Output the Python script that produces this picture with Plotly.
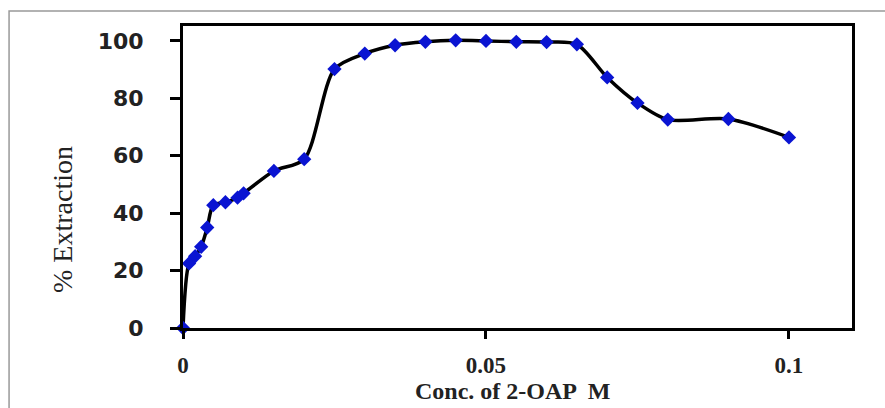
import plotly.graph_objects as go

conc = [0, 0.001, 0.002, 0.003, 0.004, 0.005, 0.007, 0.009, 0.010, 0.015, 0.020,
        0.025, 0.030, 0.035, 0.040, 0.045, 0.050, 0.055, 0.060, 0.065,
        0.070, 0.075, 0.080, 0.090, 0.100]
extraction = [0, 22.5, 25.0, 28.3, 35.0, 42.8, 43.8, 45.4, 46.9, 54.7, 58.8,
              90.2, 95.6, 98.5, 99.7, 100.2, 100.0, 99.7, 99.6, 98.8,
              87.3, 78.4, 72.6, 72.8, 66.4]

x_ticks = [0, 0.05, 0.1]
x_tick_text = ["0", "0.05", "0.1"]
y_ticks = [0, 20, 40, 60, 80, 100]

x_title = "Conc. of 2-OAP \u00a0M"
y_title = "% Extraction"

fig = go.Figure()
fig.add_trace(go.Scatter(
    x=conc, y=extraction, mode="lines+markers",
    line=dict(color="black", width=3.5, shape="spline", smoothing=0.8),
    marker=dict(symbol="diamond", size=11, color="#0a14d2",
                line=dict(width=0)),
    cliponaxis=False, showlegend=False,
))

fig.update_layout(
    width=885, height=408,
    margin=dict(l=183, r=33, t=26, b=80, pad=0),
    paper_bgcolor="white", plot_bgcolor="white",
    xaxis=dict(
        range=[0, 0.1104], tickvals=x_ticks, ticktext=x_tick_text,
        showgrid=False, zeroline=False, automargin=False,
        showline=True, linecolor="black", linewidth=3, mirror=True,
        ticks="outside", ticklen=8, tickwidth=3, tickcolor="black",
        tickfont=dict(family="Liberation Serif", size=23, color="#222", weight="bold"),
        ticklabelstandoff=6,
    ),
    yaxis=dict(
        range=[0, 105.2], tickvals=y_ticks,
        showgrid=False, zeroline=False, automargin=False,
        showline=True, linecolor="black", linewidth=3, mirror=True,
        ticks="outside", ticklen=10, tickwidth=3, tickcolor="black",
        tickfont=dict(family="DejaVu Sans", size=22, color="#222", weight="bold"),
        ticklabelstandoff=22,
    ),
    annotations=[
        dict(text=x_title, xref="paper", yref="paper",
             x=(512 - 183) / 669, y=(328 - 391) / 302,
             xanchor="center", yanchor="middle", showarrow=False,
             font=dict(family="Liberation Serif", size=24, color="#222", weight="bold")),
        dict(text=y_title, xref="paper", yref="paper", textangle=-90,
             x=(63 - 183) / 669, y=(328 - 220) / 302,
             xanchor="center", yanchor="middle", showarrow=False,
             font=dict(family="Liberation Serif", size=28, color="#222")),
    ],
    shapes=[dict(type="rect", xref="paper", yref="paper",
                 x0=-0.260, x1=1.2, y0=-0.4, y1=1.0497,
                 line=dict(color="#999999", width=1.5), layer="below")],
)

fig.write_html("out.html")
